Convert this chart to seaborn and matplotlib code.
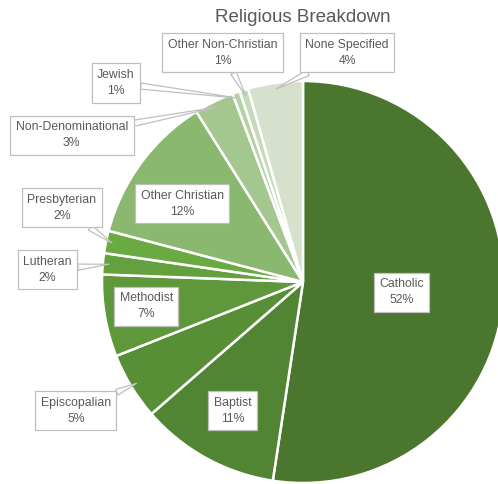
import numpy as np
import seaborn as sns
import matplotlib.pyplot as plt

# --- Data ---
religions = ["Catholic", "Baptist", "Episcopalian", "Methodist", "Lutheran",
             "Presbyterian", "Other Christian", "Non-Denominational", "Jewish",
             "Other Non-Christian", "None Specified"]
shares = [52.4, 11.2, 5.4, 6.6, 1.7, 1.8, 12.0, 3.2, 0.6, 0.7, 4.4]
colors = ["#4a762d", "#518433", "#578e36", "#5e983a", "#64a03e", "#6aaa42",
          "#8ab86e", "#a4c68f", "#b6d1a4", "#c6dab9", "#d5e1cc"]

# label box centres (pie radius = 1)
label_pos = {
    "Catholic": (0.49, -0.05),
    "Baptist": (-0.35, -0.64),
    "Episcopalian": (-1.13, -0.64),
    "Methodist": (-0.78, -0.12),
    "Lutheran": (-1.27, 0.06),
    "Presbyterian": (-1.20, 0.37),
    "Other Christian": (-0.60, 0.39),
    "Non-Denominational": (-1.15, 0.73),
    "Jewish": (-0.93, 0.99),
    "Other Non-Christian": (-0.40, 1.14),
    "None Specified": (0.22, 1.14),
}
inside = {"Catholic", "Baptist", "Methodist", "Other Christian"}

sns.set_style("white")
plt.rcParams["font.family"] = ["Liberation Sans", "DejaVu Sans"]

fig = plt.figure(figsize=(4.98, 4.84), dpi=100)
# pie centre at (303, 282) px, radius 201 px
ax = fig.add_axes([(303 - 201) / 498, (484 - 282 - 201) / 484, 402 / 498, 402 / 484])

wedges, _ = ax.pie(shares, colors=colors, startangle=90, counterclock=False,
                   radius=1, center=(0, 0), frame=False,
                   wedgeprops=dict(edgecolor="white", linewidth=1.8))
ax.set_xlim(-1, 1)
ax.set_ylim(-1, 1)
ax.axis("off")

box = dict(boxstyle="square,pad=0.45", fc="white", ec="#bfbfbf", lw=0.9)
txt_kw = dict(ha="center", va="center", fontsize=8.8, color="#595959",
              bbox=box, linespacing=1.45)
total = sum(shares)
cum = np.cumsum([0] + shares)
for i, name in enumerate(religions):
    text = f"{name}\n{round(shares[i] / total * 100)}%"
    tx, ty = label_pos[name]
    if name in inside:
        ax.text(tx, ty, text, **txt_kw)
    else:
        mid = (cum[i] + cum[i + 1]) / 2 / total * 2 * np.pi
        px, py = 0.97 * np.sin(mid), 0.97 * np.cos(mid)
        ax.annotate(text, xy=(px, py), xytext=(tx, ty), annotation_clip=False,
                    arrowprops=dict(arrowstyle="wedge,tail_width=0.5", fc="white",
                                    ec="#bfbfbf", lw=0.9, shrinkA=0, shrinkB=0),
                    **txt_kw)

fig.text(303 / 498, 1 - 18 / 484, "Religious Breakdown", ha="center", va="center",
         fontsize=13.5, color="#595959")

fig.savefig("out.png", dpi=100)
